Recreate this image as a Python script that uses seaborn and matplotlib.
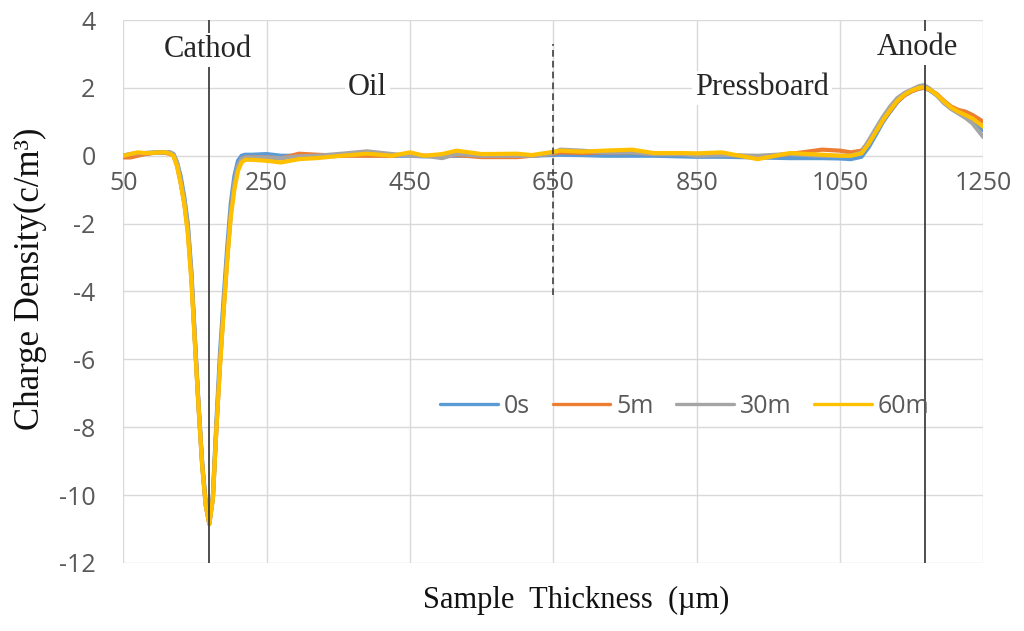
import matplotlib
matplotlib.use("Agg")
import matplotlib.pyplot as plt
import seaborn as sns
import pandas as pd

# sample thickness (um), shared by all four series
thickness = [50, 60, 70, 80, 90, 100, 110, 115,
             120, 125, 130, 135, 140, 145, 150, 155, 160, 165, 170,
             175, 180, 185, 190, 195, 200, 205, 210, 215, 220,
             230, 250, 270, 295, 320, 355, 390, 425, 450, 470, 495, 515, 550, 600,
             620, 645, 660, 690, 720, 760, 790, 830, 850, 885, 935, 980, 1025, 1050,
             1065, 1080, 1090, 1100, 1110, 1120, 1130, 1140, 1150, 1160, 1167,
             1175, 1185, 1195, 1205, 1215, 1225, 1235, 1250]

q_0s = [0.0, 0.05, 0.05, 0.05, 0.08, 0.1, 0.1, 0.1,
        0.05, -0.2, -0.6, -1.2, -2.0, -3.4, -5.4, -7.3, -9.0, -10.2, -10.8,
        -10.0, -7.8, -5.8, -4.2, -2.7, -1.4, -0.6, -0.15, 0.0, 0.03,
        0.03, 0.05, 0.0, 0.0, 0.0, 0.02, 0.02, 0.0, 0.0, -0.02, 0.0, 0.0, 0.0, 0.0,
        0.0, 0.02, 0.03, 0.02, 0.0, 0.0, 0.0, -0.02, -0.03, -0.03, -0.05, -0.07, -0.07, -0.08,
        -0.1, -0.03, 0.25, 0.62, 1.0, 1.3, 1.58, 1.78, 1.9, 1.98, 2.0,
        1.93, 1.78, 1.58, 1.4, 1.27, 1.15, 1.02, 0.75]

q_5m = [-0.05, -0.05, 0.0, 0.05, 0.08, 0.1, 0.08, 0.05,
        0.0, -0.3, -0.8, -1.4, -2.2, -3.6, -5.5, -7.4, -9.1, -10.3, -10.85,
        -10.1, -8.0, -6.1, -4.5, -3.0, -1.7, -0.9, -0.35, -0.1, -0.05,
        -0.05, -0.05, -0.08, 0.06, 0.03, 0.0, 0.0, 0.0, 0.05, 0.0, 0.0, 0.02, -0.04, -0.04,
        0.0, 0.05, 0.1, 0.08, 0.1, 0.1, 0.05, 0.05, 0.05, 0.05, -0.05, 0.05, 0.18, 0.15,
        0.1, 0.15, 0.4, 0.72, 1.05, 1.33, 1.6, 1.78, 1.9, 1.98, 2.0,
        1.95, 1.82, 1.62, 1.45, 1.35, 1.3, 1.2, 1.0]

q_30m = [0.0, 0.05, 0.08, 0.08, 0.1, 0.1, 0.1, 0.1,
         0.05, -0.2, -0.7, -1.3, -2.1, -3.5, -5.5, -7.4, -9.1, -10.3, -10.85,
         -10.1, -8.0, -6.1, -4.5, -3.0, -1.7, -0.8, -0.3, -0.1, -0.05,
         -0.05, -0.05, -0.07, -0.02, 0.0, 0.06, 0.13, 0.05, 0.0, 0.0, -0.07, 0.05, 0.0, 0.0,
         0.0, 0.05, 0.18, 0.15, 0.1, 0.1, 0.05, 0.05, 0.0, 0.02, 0.0, 0.05, 0.0, 0.0,
         0.0, 0.1, 0.45, 0.8, 1.15, 1.45, 1.7, 1.85, 1.95, 2.05, 2.08,
         1.98, 1.78, 1.55, 1.38, 1.25, 1.12, 0.95, 0.55]

q_60m = [0.0, 0.05, 0.1, 0.08, 0.08, 0.1, 0.1, 0.06,
         0.0, -0.3, -0.8, -1.4, -2.3, -3.7, -5.6, -7.4, -9.1, -10.3, -10.85,
         -10.1, -8.0, -6.2, -4.6, -3.1, -1.8, -1.0, -0.45, -0.2, -0.12,
         -0.12, -0.15, -0.2, -0.1, -0.07, 0.0, 0.06, 0.0, 0.1, 0.0, 0.05, 0.15, 0.05, 0.06,
         0.02, 0.1, 0.15, 0.12, 0.15, 0.18, 0.08, 0.08, 0.07, 0.1, -0.1, 0.08, 0.03, 0.0,
         0.0, 0.07, 0.35, 0.7, 1.05, 1.35, 1.62, 1.8, 1.92, 2.0, 2.02,
         1.95, 1.8, 1.6, 1.42, 1.3, 1.2, 1.1, 0.85]

series_names = ["0s", "5m", "30m", "60m"]
series_colors = ["#5B9BD5", "#ED7D31", "#A5A5A5", "#FFC000"]

x_ticks = [50, 250, 450, 650, 850, 1050, 1250]
y_ticks = [-12, -10, -8, -6, -4, -2, 0, 2, 4]

cathode_x = 170
anode_x = 1168
interface_x = 650

sns.set_theme(style="white")
plt.rcParams['font.family'] = ['Open Sans', 'DejaVu Sans']
plt.rcParams['axes.unicode_minus'] = False

frames = []
for name, vals in zip(series_names, [q_0s, q_5m, q_30m, q_60m]):
    frames.append(pd.DataFrame({"thickness": thickness, "charge": vals, "time": name}))
df = pd.concat(frames, ignore_index=True)

fig = plt.figure(figsize=(10.24, 6.31), dpi=100)
ax = fig.add_axes([0.1204, 0.1078, 0.8399, 0.8605])

sns.lineplot(data=df, x="thickness", y="charge", hue="time", hue_order=series_names,
             palette=dict(zip(series_names, series_colors)), linewidth=3,
             sort=False, estimator=None, ax=ax, zorder=3)

ax.set_xlim(50, 1250)
ax.set_ylim(-12, 4)
ax.set_xticks(x_ticks)
ax.set_yticks(y_ticks)
ax.grid(True, color="#D9D9D9", linewidth=1)
ax.set_axisbelow(True)
for s in ax.spines.values():
    s.set_visible(False)
ax.spines['bottom'].set_position(('data', 0))
ax.tick_params(axis='x', length=0, pad=11, labelsize=18, labelcolor="#595959")
ax.tick_params(axis='y', length=0, pad=20, labelsize=18, labelcolor="#595959")

# electrode and interface markers
ax.axvline(cathode_x, color="#404040", linewidth=1.3, zorder=4)
ax.axvline(anode_x, color="#404040", linewidth=1.3, zorder=4)
ax.vlines(interface_x, -4.1, 3.3, colors="#404040", linestyles=(0, (4, 2.5)), linewidth=1.2, zorder=4)

box = dict(facecolor="white", edgecolor="none", pad=2)
serif = ['Liberation Serif', 'DejaVu Serif']
ax.text(cathode_x - 2, 3.12, "Cathod", ha="center", va="center", fontsize=22, family=serif, bbox=box, zorder=5)
ax.text(1158, 3.18, "Anode", ha="center", va="center", fontsize=22, family=serif, bbox=box, zorder=5)
ax.text(391, 2.0, "Oil", ha="center", va="center", fontsize=22, family=serif, bbox=box, zorder=5)
ax.text(941, 2.0, "Pressboard", ha="center", va="center", fontsize=22, family=serif, bbox=box, zorder=5)

ax.set_xlabel("")
ax.set_ylabel("")
fig.text(30 / 1024, 1 - 279 / 631, "Charge Density(c/m³)", ha="center", va="center",
         rotation=90, fontsize=25, family=serif, color="#111111")
fig.text(576 / 1024, 1 - 600 / 631, "Sample  Thickness  (µm)", ha="center", va="center",
         fontsize=22, family=serif, color="#111111")

leg = ax.legend(loc="center", bbox_to_anchor=(0.653, 0.289), ncol=4, frameon=False,
                fontsize=18, handlelength=2.3, handletextpad=0.25, columnspacing=0.9,
                labelcolor="#595959")
for h in leg.get_lines():
    h.set_linewidth(2.4)

fig.savefig("out.png", dpi=100)
